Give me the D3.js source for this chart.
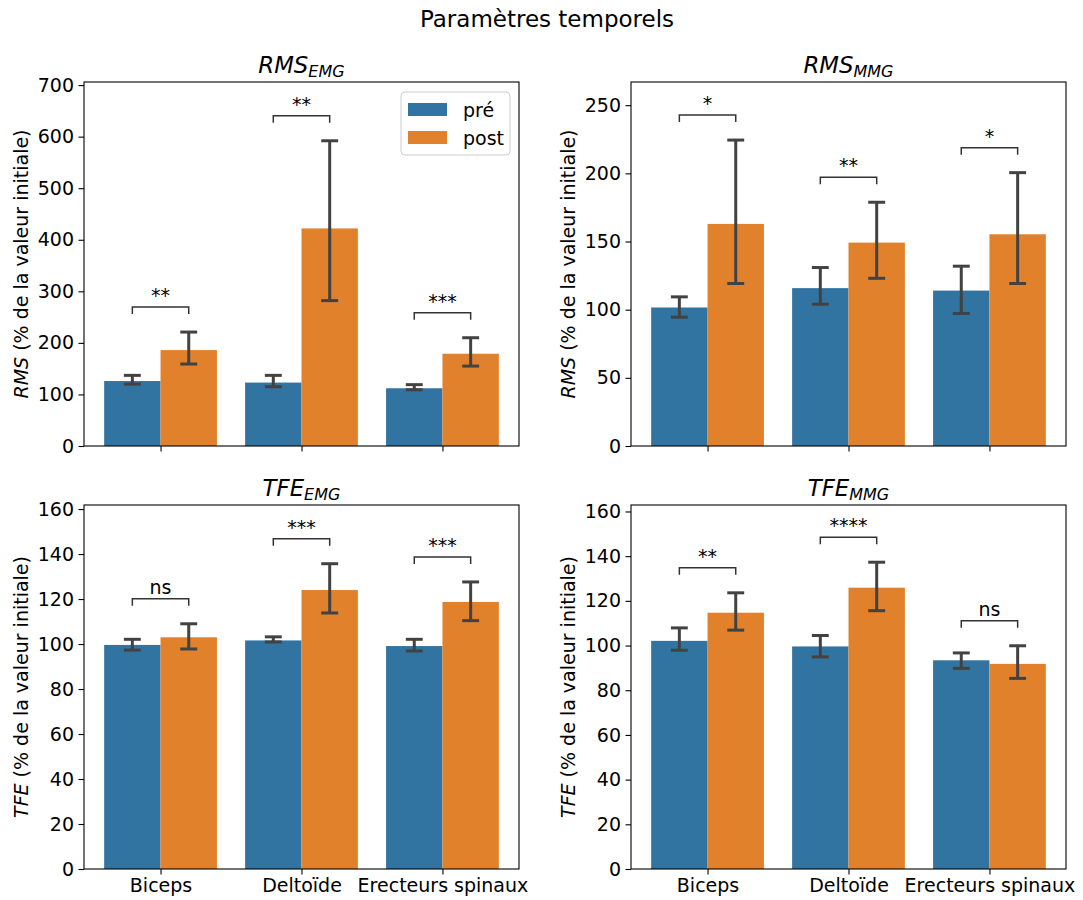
<!DOCTYPE html>
<html><head><meta charset="utf-8">
<script src="https://cdn.jsdelivr.net/npm/d3@7"></script>
<style>
body{margin:0;background:#fff}
text{font-family:"DejaVu Sans",sans-serif;fill:#000}
</style>
</head><body>
<svg id="chart" width="1083" height="900"></svg>
<script>
// ---------- data ----------
const categories = ["Biceps", "Deltoïde", "Erecteurs spinaux"];
const hues = ["pré", "post"];
const hueColors = ["#3274a1", "#e1812c"];

// RMS EMG
const rmsEmgPre = [126, 123, 112];
const rmsEmgPreLo = [120, 115, 109];
const rmsEmgPreHi = [137, 137, 119];
const rmsEmgPost = [186, 422, 179];
const rmsEmgPostLo = [159, 282, 155];
const rmsEmgPostHi = [221, 592, 210];
const rmsEmgSig = ["**", "**", "***"];
const rmsEmgTicks = [0, 100, 200, 300, 400, 500, 600, 700];
const rmsEmgYMax = 706;

// RMS MMG
const rmsMmgPre = [101.6, 115.8, 114];
const rmsMmgPreLo = [94.5, 104, 97.2];
const rmsMmgPreHi = [109.4, 130.9, 131.9];
const rmsMmgPost = [162.9, 149.2, 155.3];
const rmsMmgPostLo = [119.2, 123, 119.2];
const rmsMmgPostHi = [224.4, 178.8, 200.5];
const rmsMmgSig = ["*", "**", "*"];
const rmsMmgTicks = [0, 50, 100, 150, 200, 250];
const rmsMmgYMax = 267;

// TFE EMG
const tfeEmgPre = [99.6, 101.6, 99.1];
const tfeEmgPreLo = [97.3, 100.9, 96.9];
const tfeEmgPreHi = [102.1, 103.2, 102.1];
const tfeEmgPost = [103, 124, 118.7];
const tfeEmgPostLo = [97.8, 113.8, 110.4];
const tfeEmgPostHi = [109, 135.7, 127.6];
const tfeEmgSig = ["ns", "***", "***"];
const tfeEmgTicks = [0, 20, 40, 60, 80, 100, 120, 140, 160];
const tfeEmgYMax = 161.8;

// TFE MMG
const tfeMmgPre = [102.1, 99.6, 93.4];
const tfeMmgPreLo = [97.9, 94.9, 89.8];
const tfeMmgPreHi = [107.9, 104.5, 96.7];
const tfeMmgPost = [114.7, 125.9, 91.8];
const tfeMmgPostLo = [106.9, 115.6, 85.3];
const tfeMmgPostHi = [123.6, 137.3, 99.9];
const tfeMmgSig = ["**", "****", "ns"];
const tfeMmgTicks = [0, 20, 40, 60, 80, 100, 120, 140, 160];
const tfeMmgYMax = 162.9;

const suptitle = "Paramètres temporels";
const yLabelRest = " (% de la valeur initiale)";

// ---------- drawing ----------
const svg = d3.select("#chart");
const FS = 19;
const ERR = "#424242";

svg.append("text").attr("x", 547).attr("y", 27).attr("text-anchor", "middle")
  .style("font-size", "23px").text(suptitle);

const panels = [
  {t: "RMS", s: "EMG", pre: rmsEmgPre, preLo: rmsEmgPreLo, preHi: rmsEmgPreHi, post: rmsEmgPost, postLo: rmsEmgPostLo, postHi: rmsEmgPostHi, sig: rmsEmgSig, ticks: rmsEmgTicks, yMax: rmsEmgYMax,
   L: 84, T: 82, R: 519, B: 446, legend: true, xlab: false},
  {t: "RMS", s: "MMG", pre: rmsMmgPre, preLo: rmsMmgPreLo, preHi: rmsMmgPreHi, post: rmsMmgPost, postLo: rmsMmgPostLo, postHi: rmsMmgPostHi, sig: rmsMmgSig, ticks: rmsMmgTicks, yMax: rmsMmgYMax,
   L: 631, T: 82, R: 1066, B: 446, legend: false, xlab: false},
  {t: "TFE", s: "EMG", pre: tfeEmgPre, preLo: tfeEmgPreLo, preHi: tfeEmgPreHi, post: tfeEmgPost, postLo: tfeEmgPostLo, postHi: tfeEmgPostHi, sig: tfeEmgSig, ticks: tfeEmgTicks, yMax: tfeEmgYMax,
   L: 84, T: 505, R: 519, B: 869, legend: false, xlab: true},
  {t: "TFE", s: "MMG", pre: tfeMmgPre, preLo: tfeMmgPreLo, preHi: tfeMmgPreHi, post: tfeMmgPost, postLo: tfeMmgPostLo, postHi: tfeMmgPostHi, sig: tfeMmgSig, ticks: tfeMmgTicks, yMax: tfeMmgYMax,
   L: 631, T: 505, R: 1066, B: 869, legend: false, xlab: true}
];

panels.forEach(p => {
  const x = d3.scaleLinear().domain([-0.543, categories.length - 1 + 0.543]).range([p.L, p.R]);
  const y = d3.scaleLinear().domain([0, p.yMax]).range([p.B, p.T]);
  const g = svg.append("g");
  const bw = x(0.4) - x(0);
  const series = [
    {v: p.pre, lo: p.preLo, hi: p.preHi, off: -0.2, c: hueColors[0]},
    {v: p.post, lo: p.postLo, hi: p.postHi, off: 0.2, c: hueColors[1]}
  ];
  // bars
  series.forEach(sr => {
    g.selectAll(null).data(sr.v).enter().append("rect")
      .attr("x", (d, i) => x(i + sr.off) - bw / 2)
      .attr("width", bw)
      .attr("y", d => y(d))
      .attr("height", d => y(0) - y(d))
      .attr("fill", sr.c);
  });
  // error bars
  const capHalf = x(0.06) - x(0);
  series.forEach(sr => {
    sr.v.forEach((d, i) => {
      const cx = x(i + sr.off);
      g.append("line").attr("x1", cx).attr("x2", cx).attr("y1", y(sr.lo[i])).attr("y2", y(sr.hi[i]))
        .attr("stroke", ERR).attr("stroke-width", 3);
      [sr.lo[i], sr.hi[i]].forEach(e => {
        g.append("line").attr("x1", cx - capHalf).attr("x2", cx + capHalf).attr("y1", y(e)).attr("y2", y(e))
          .attr("stroke", ERR).attr("stroke-width", 3);
      });
    });
  });
  // significance brackets
  p.sig.forEach((s, i) => {
    const top = Math.min(y(p.preHi[i]), y(p.postHi[i]));
    const legEnd = top - 18;
    const bar = legEnd - 7;
    const x1 = x(i - 0.2), x2 = x(i + 0.2);
    g.append("path").attr("d", `M${x1},${legEnd}L${x1},${bar}L${x2},${bar}L${x2},${legEnd}`)
      .attr("fill", "none").attr("stroke", "#333").attr("stroke-width", 1.5);
    g.append("text").attr("x", (x1 + x2) / 2).attr("y", bar - 5).attr("text-anchor", "middle")
      .style("font-size", FS + "px").text(s);
  });
  // y axis
  const ya = d3.axisLeft(y).tickValues(p.ticks).tickSize(5.5).tickPadding(4.5).tickSizeOuter(0);
  const yg = g.append("g").attr("transform", `translate(${p.L},0)`).call(ya);
  yg.select(".domain").remove();
  yg.selectAll("line").attr("stroke", "#000").attr("stroke-width", 1.1);
  yg.selectAll("text").style("font-size", FS + "px").style("font-family", "DejaVu Sans").attr("fill", "#000");
  // x axis
  const xa = d3.axisBottom(x).tickValues(d3.range(categories.length)).tickSize(5.5).tickPadding(4.5)
    .tickSizeOuter(0).tickFormat(i => p.xlab ? categories[i] : "");
  const xg = g.append("g").attr("transform", `translate(0,${p.B})`).call(xa);
  xg.select(".domain").remove();
  xg.selectAll("line").attr("stroke", "#000").attr("stroke-width", 1.1);
  xg.selectAll("text").style("font-size", FS + "px").style("font-family", "DejaVu Sans").attr("fill", "#000");
  // frame
  g.append("rect").attr("x", p.L).attr("y", p.T).attr("width", p.R - p.L).attr("height", p.B - p.T)
    .attr("fill", "none").attr("stroke", "#000").attr("stroke-width", 1.1);
  // title
  const tt = g.append("text").attr("x", (p.L + p.R) / 2).attr("y", p.T - 9).attr("text-anchor", "middle")
    .style("font-size", "22.8px");
  tt.append("tspan").style("font-style", "italic").text(p.t);
  tt.append("tspan").style("font-style", "italic").style("font-size", "16px").attr("dy", 4).text(p.s);
  // y label
  const yl = g.append("text").attr("transform", `translate(${p.L - 56},${(p.T + p.B) / 2}) rotate(-90)`)
    .attr("text-anchor", "middle").style("font-size", FS + "px");
  yl.append("tspan").style("font-style", "italic").text(p.t);
  yl.append("tspan").text(yLabelRest);
  // legend
  if (p.legend) {
    const lw = 109, lh = 63;
    const lx = p.R - 9 - lw, ly = p.T + 10;
    const lg = g.append("g");
    lg.append("rect").attr("x", lx).attr("y", ly).attr("width", lw).attr("height", lh).attr("rx", 4)
      .attr("fill", "#fff").attr("fill-opacity", 0.8).attr("stroke", "#ccc").attr("stroke-width", 1);
    hues.forEach((h, k) => {
      const cy = ly + 17.5 + k * 28;
      lg.append("rect").attr("x", lx + 7).attr("y", cy - 6.5).attr("width", 39).attr("height", 13).attr("fill", hueColors[k]);
      lg.append("text").attr("x", lx + 62).attr("y", cy + 7).style("font-size", FS + "px").text(h);
    });
  }
});
</script>
</body></html>
